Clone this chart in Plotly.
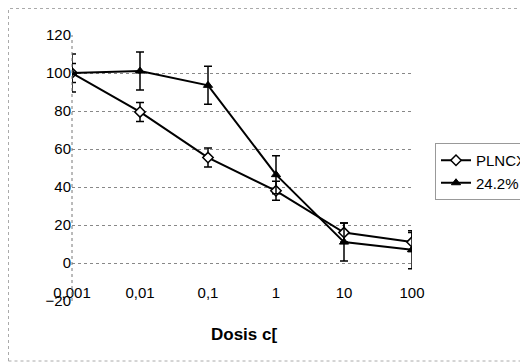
import plotly.graph_objects as go

doses = [0.001, 0.01, 0.1, 1, 10, 100]
dose_labels = ["0,001", "0,01", "0,1", "1", "10", "100"]

plncx = [100, 79.5, 55.5, 38, 16, 11]
plncx_err = [5, 5, 5, 5, 5, 5]

s242 = [100, 101, 93.5, 46.5, 11, 7]
s242_err = [10, 10, 10, 10, 10, 10]

y_ticks = [-20, 0, 20, 40, 60, 80, 100, 120]

FONT = "Arial, Liberation Sans, sans-serif"

# page body has an 8px margin; figure is sized/offset to compensate
W, H = 520, 355
L, R, T, B = 64, 116, 27, 62
PW, PH = W - L - R, H - T - B

fig = go.Figure()
fig.add_trace(go.Scatter(
    x=doses, y=plncx, name="PLNCX", mode="lines+markers",
    line=dict(color="black", width=2),
    marker=dict(symbol="diamond", size=8, color="white", line=dict(color="black", width=1.5)),
    error_y=dict(type="data", array=plncx_err, color="black", thickness=1.5, width=4),
))
fig.add_trace(go.Scatter(
    x=doses, y=s242, name="24.2%", mode="lines+markers",
    line=dict(color="black", width=2),
    marker=dict(symbol="triangle-up", size=8, color="black", line=dict(color="black", width=1)),
    error_y=dict(type="data", array=s242_err, color="black", thickness=1.5, width=4),
))

fig.update_layout(
    width=W, height=H,
    margin=dict(l=L, r=R, t=T, b=B, autoexpand=False),
    paper_bgcolor="white", plot_bgcolor="white",
    font=dict(family=FONT, size=15, color="black"),
    showlegend=True,
    legend=dict(x=(435 - 72) / 340, y=0.594, xanchor="left", yanchor="top",
                bordercolor="#999999", borderwidth=1, bgcolor="white",
                font=dict(family=FONT, size=15, color="black"),
                itemwidth=30, tracegroupgap=4),
    xaxis=dict(type="log", range=[-3, 2], tickvals=doses, ticktext=dose_labels,
               showgrid=False, zeroline=False, showline=False,
               anchor="free", position=20/140, automargin=False,
               ticks="outside", ticklen=16, tickcolor="rgba(0,0,0,0)",
               tickfont=dict(family=FONT, size=15, color="black")),
    yaxis=dict(range=[-20, 120], tickvals=y_ticks, showgrid=True, automargin=False,
               gridcolor="#888888", griddash="dot", gridwidth=1,
               zeroline=False, showline=False, ticks="",
               tickfont=dict(family=FONT, size=15, color="black")),
    shapes=[
        dict(type="line", xref="paper", yref="paper", x0=0, x1=0, y0=0, y1=1,
             line=dict(color="#777777", width=1, dash="dot")),
        dict(type="rect", xref="paper", yref="paper",
             x0=(0.5 - L) / PW, x1=(W - 0.5 - L) / PW,
             y0=(PH + T - 353) / PH, y1=(PH + T - 0.5) / PH,
             line=dict(color="#aaaaaa", width=1, dash="dot")),
    ],
    annotations=[
        dict(text="<b>Dosis c[</b>", xref="paper", yref="paper",
             x=(244 - 72) / 340, y=(301 - 334) / 266, showarrow=False,
             xanchor="center", yanchor="middle",
             font=dict(family=FONT, size=17, color="black")),
    ],
)

fig.write_html("out.html")
